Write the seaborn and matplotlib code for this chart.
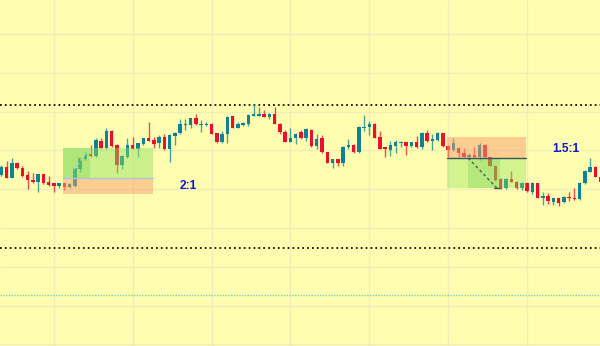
import numpy as np
import pandas as pd
import matplotlib
matplotlib.use("Agg")
import matplotlib.pyplot as plt
import seaborn as sns
from matplotlib.patches import Rectangle

# ---- price data (points) ----
open_ = [171,179,168,183,178,171,166,164,172,164,163,160,163,159,160,177,187,192,190,205,198,215,201,181,189,201,197,202,208,206,
         203,209,197,210,213,221,221,228,221,221,222,213,204,212,230,218,221,222,230,230,232,229,232,222,214,204,208,214,208,216,
         200,208,194,183,187,183,199,201,194,218,219,222,209,199,196,200,203,204,200,204,199,213,205,206,213,200,196,198,193,189,
         191,189,201,189,180,167,158,167,164,158,163,154,163,148,150,144,148,144,149,148,147,163,174,179,169]
close = [179,168,183,178,170,166,164,172,163,161,160,163,159,162,178,188,192,190,206,198,215,200,181,190,201,197,203,208,205,202,
         209,197,211,213,222,222,228,222,222,222,212,204,212,229,218,222,223,231,232,232,229,232,222,214,204,208,212,208,217,200,
         207,194,183,187,183,199,201,194,219,219,222,208,197,197,201,204,204,200,204,199,213,205,207,213,200,196,203,193,189,191,
         189,201,189,180,166,158,167,164,158,163,155,163,148,150,145,148,143,149,148,147,163,175,179,169,164]
high = [181,185,188,184,180,175,173,172,172,170,163,163,163,163,178,188,194,201,208,208,218,216,202,191,208,209,203,208,224,209,
        211,212,212,214,227,227,228,232,226,224,223,213,215,230,230,224,224,232,242,239,236,233,239,223,216,218,213,216,218,217,
        212,211,194,187,187,200,207,202,220,231,225,223,215,199,205,206,205,204,204,210,214,216,212,214,213,201,208,199,198,193,
        199,203,202,189,181,168,168,175,165,164,164,164,163,154,153,148,148,150,154,158,164,176,188,180,170]
low = [170,168,168,177,169,157,163,154,162,160,154,158,156,158,159,174,186,189,189,197,197,199,173,177,188,197,189,201,205,198,
       198,196,184,201,212,216,218,221,214,220,212,203,203,203,218,218,220,220,230,230,229,227,222,212,204,204,202,207,205,199,
       197,193,183,178,180,180,197,193,193,215,211,208,197,189,190,193,199,191,199,198,197,204,196,205,199,189,195,189,189,187,
       188,186,188,180,165,157,157,164,157,156,154,152,148,141,142,141,140,143,145,146,146,162,174,169,163]

# key levels
upper_level = 241.3
lower_level = 98.0
cyan_level = 51.3
hgrid = [1.6, 40.4, 79.2, 118.0, 156.8, 195.6, 234.4, 273.2, 312.0]
vgrid = [10, 25, 40, 55, 70, 85, 100]

# long trade (2:1)
long_x0, long_x1, long_hit = 11.8, 28.8, 16.8
long_entry, long_target, long_stop = 167.7, 197.7, 152.0
# short trade (1.5:1)
short_x0, short_x1, short_hit0, short_hit1 = 84.8, 99.8, 88.8, 94.8
short_entry, short_target, short_stop = 188.0, 157.7, 208.7

BG = "#fffeb0"
UP = "#0f8296"
DOWN = "#e8102e"

df = pd.DataFrame({"open": open_, "high": high, "low": low, "close": close})
df["idx"] = np.arange(len(df))
df["up"] = df["close"] >= df["open"]
df["color"] = np.where(df["up"], UP, DOWN)
df["bottom"] = df[["open", "close"]].min(axis=1)
df["body"] = (df["close"] - df["open"]).abs().clip(lower=1.2)

sns.set_theme(style="white", rc={"axes.facecolor": BG, "figure.facecolor": BG})
fig = plt.figure(figsize=(6, 3.46), dpi=100)
ax = fig.add_axes([0, 0, 1, 1])

# grid
ax.set_xticks(vgrid)
ax.set_yticks(hgrid)
ax.grid(True, color="#efeeba", lw=1)
ax.tick_params(length=0, labelbottom=False, labelleft=False)
for s in ax.spines.values():
    s.set_visible(False)

# level lines
ax.axhline(upper_level, color="#111111", lw=1.3, ls=(0, (1, 1.7)), zorder=2)
ax.axhline(lower_level, color="#111111", lw=1.3, ls=(0, (1, 1.7)), zorder=2)
ax.axhline(cyan_level, color="#7fd0b8", lw=1.0, ls=(0, (1, 1)), zorder=2)

# candles
ax.vlines(df["idx"], df["low"], df["high"], colors=df["color"], lw=1.0, alpha=0.75, zorder=3)
ax.bar(df["idx"], df["body"], bottom=df["bottom"], width=0.66, color=df["color"], lw=0, zorder=3)

# long position box
GREEN = "#8fe35f"
GREEN_D = "#6fcf4f"
ORANGE = "#f7a070"
ax.add_patch(Rectangle((long_x0, long_entry), long_x1 - long_x0, long_target - long_entry,
                       fc=GREEN, alpha=0.45, lw=0, zorder=4))
ax.add_patch(Rectangle((long_x0, long_stop), long_x1 - long_x0, long_entry - long_stop,
                       fc=ORANGE, alpha=0.5, lw=0, zorder=4))
ax.add_patch(Rectangle((long_x0, long_entry), long_hit - long_x0, long_target - long_entry,
                       fc=GREEN_D, alpha=0.3, lw=0, zorder=4))
ax.plot([long_x0, long_x1], [long_entry, long_entry], color="#a9c6dc", lw=1, zorder=5)
ax.plot([long_x0 + 0.7, long_hit], [long_entry, long_target], color="#c4c8e0", lw=1, ls=(0, (2, 2)), zorder=5)

# short position box
ax.add_patch(Rectangle((short_x0, short_entry), short_x1 - short_x0, short_stop - short_entry,
                       fc=ORANGE, alpha=0.5, lw=0, zorder=4))
ax.add_patch(Rectangle((short_x0, short_target), short_x1 - short_x0, short_entry - short_target,
                       fc=GREEN, alpha=0.4, lw=0, zorder=4))
ax.add_patch(Rectangle((short_hit0, short_target), short_hit1 - short_hit0, short_entry - short_target,
                       fc=GREEN_D, alpha=0.3, lw=0, zorder=4))
ax.plot([short_x0, short_x1], [short_entry, short_entry], color="#3c5566", lw=1, zorder=5)
ax.plot([short_hit0, short_hit1 - 0.5], [short_entry, short_target], color="#555555", lw=1, ls=(0, (2, 2)), zorder=5)
ax.plot([short_hit1 - 1, short_hit1], [short_target, short_target], color="#555555", lw=1, zorder=5)

# ratio labels
ax.text(35.6, 160, "2:1", color="#1414d8", fontsize=8.6, fontweight="bold",
        family=["Liberation Sans", "DejaVu Sans"], ha="center", va="center", zorder=6)
ax.text(107.4, 196.7, "1.5:1", color="#1414d8", fontsize=8.6, fontweight="bold",
        family=["Liberation Sans", "DejaVu Sans"], ha="center", va="center", zorder=6)

ax.set_xlim(-0.25, 113.88)
ax.set_ylim(0, 346)

fig.savefig("out.png", dpi=100, facecolor=BG)
